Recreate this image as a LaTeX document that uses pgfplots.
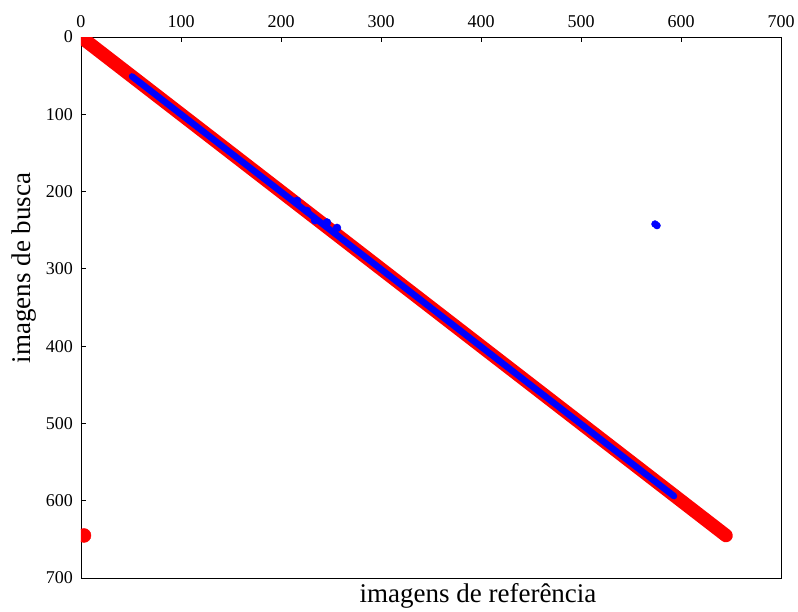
\documentclass[border=0pt]{standalone}
\usepackage{pgfplots}
\pgfplotsset{compat=1.18}
\usepackage{fontspec}
\setmainfont{Liberation Serif}
\begin{document}
\begin{tikzpicture}
\useasboundingbox (-81pt,-34pt) rectangle (717pt,578pt);
\begin{axis}[
  at={(0pt,0pt)}, anchor=south west,
  scale only axis, width=700pt, height=541pt,
  xmin=0, xmax=700, ymin=0, ymax=700,
  y dir=reverse,
  xtick={0,100,...,700}, ytick={0,100,...,700},
  xtick pos=right, ytick pos=left,
  xticklabel pos=right, yticklabel pos=left,
  tick align=inside, major tick length=5pt,
  axis line style={line width=0.9pt},
  every tick/.style={black, line width=0.8pt},
  /pgf/number format/assume math mode=true,
  tick label style={font=\fontsize{18}{20}\selectfont},
  xticklabel style={anchor=base, inner sep=0pt, yshift=10pt},
  yticklabel style={anchor=east, inner sep=0pt, xshift=-8pt},
  clip marker paths=true,
]
\addplot[red, line width=13.5pt, line cap=round] coordinates {(0,0) (645,645)};
\addplot[red, only marks, mark=*, mark size=7pt] coordinates {(3,645)};
\addplot[blue, line width=6.5pt, line cap=round] coordinates {(51,51) (593,594)};
\addplot[blue, only marks, mark=*, mark size=4pt] coordinates {(216,212) (226,225) (234,237) (246,240) (256,247)};
\addplot[blue, only marks, mark=*, mark size=3.5pt] coordinates {(574,242) (576,244)};
\end{axis}
\node[anchor=base, font=\fontsize{27}{30}\selectfont] at (397pt,-25pt) {imagens de referência};
\node[anchor=base, rotate=90, font=\fontsize{27}{30}\selectfont] at (-51pt,310pt) {imagens de busca};
\end{tikzpicture}
\end{document}
